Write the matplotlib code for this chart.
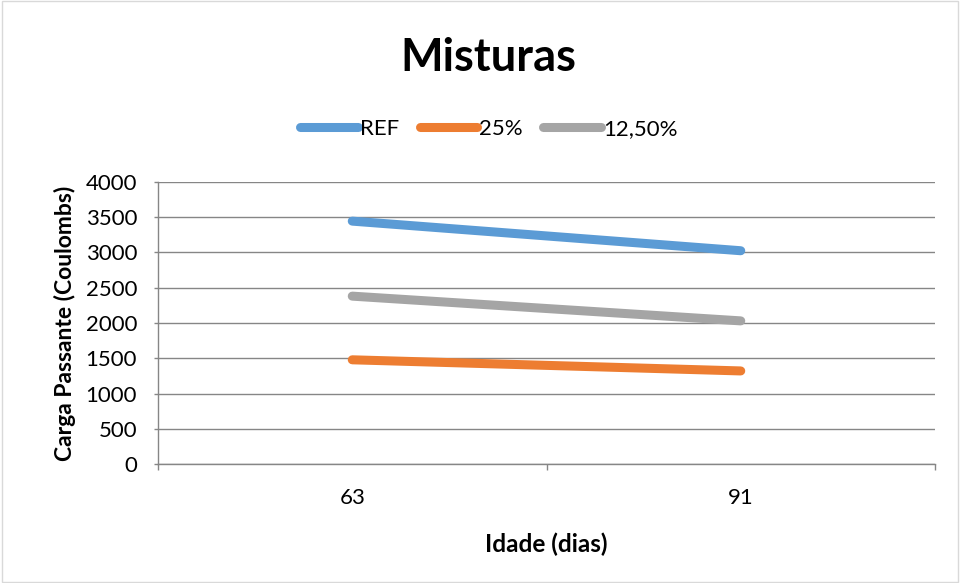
import matplotlib
matplotlib.use('Agg')
import matplotlib.pyplot as plt
import matplotlib.patches as patches

plt.rcParams['font.family'] = ['Lato', 'DejaVu Sans']

# data
idades = ['63', '91']
ref = [3445, 3025]
p25 = [1478, 1320]
p125 = [2381, 2030]
series_names = ['REF', '25%', '12,50%']
series_colors = ['#5B9BD5', '#ED7D31', '#A5A5A5']
y_ticks = [0, 500, 1000, 1500, 2000, 2500, 3000, 3500, 4000]

fig = plt.figure(figsize=(9.6, 5.83), dpi=100, facecolor='white')
ax = fig.add_axes([158 / 960, 1 - 464 / 583, (935 - 158) / 960, (464 - 182) / 583])

x = list(range(len(idades)))
lines = []
for vals, name, col in zip([ref, p25, p125], series_names, series_colors):
    ln, = ax.plot(x, vals, color=col, lw=6.5, solid_capstyle='round', label=name, zorder=3)
    lines.append(ln)

ax.set_xlim(-0.5, len(idades) - 0.5)
ax.set_ylim(0, 4000)
ax.set_yticks(y_ticks)
ax.set_yticklabels([str(v) for v in y_ticks], fontsize=16)
ax.yaxis.grid(True, color='#868686', lw=1.0)
ax.set_axisbelow(True)

# category boundaries as major ticks, labels in the middle
ax.set_xticks([i - 0.5 for i in range(len(idades) + 1)])
ax.set_xticklabels([])
ax.set_xticks(x, minor=True)
ax.set_xticklabels(idades, minor=True, fontsize=16)
ax.tick_params(axis='x', which='minor', length=0, pad=17)
ax.tick_params(axis='x', which='major', length=4, color='#868686', width=1.0)
ax.tick_params(axis='y', length=3, color='#868686', width=1.0, pad=12)

for s in ['top', 'right']:
    ax.spines[s].set_visible(False)
for s in ['left', 'bottom']:
    ax.spines[s].set_color('#868686')
    ax.spines[s].set_linewidth(1.0)

ax.set_xlabel('Idade (dias)', fontsize=17.5, fontweight='bold', labelpad=18)
ax.set_ylabel('Carga Passante (Coulombs)', fontsize=16.5, fontweight='bold', labelpad=7)

fig.text(488 / 960, 1 - 58 / 583, 'Misturas', ha='center', va='center', fontsize=32.5, fontweight='bold')

fig.legend(handles=lines, loc='center', bbox_to_anchor=(489 / 960, 1 - 129 / 583), ncol=3,
           frameon=False, fontsize=16, handlelength=2.6, handletextpad=0.1, columnspacing=0.9)

# outer chart border
fig.patches.append(patches.Rectangle((0.002, 0.002), 0.996, 0.996, transform=fig.transFigure,
                                     fill=False, edgecolor='#D9D9D9', lw=1.0))

fig.savefig('out.png', dpi=100, facecolor='white')
